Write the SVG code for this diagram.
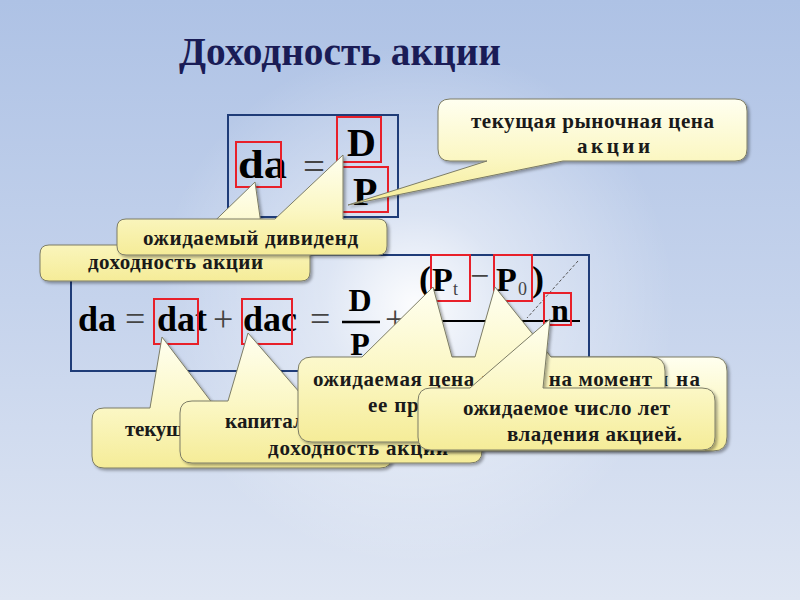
<svg xmlns="http://www.w3.org/2000/svg" width="800" height="600" viewBox="0 0 800 600">
<defs>
<linearGradient id="bg" x1="0" y1="0" x2="0" y2="1">
<stop offset="0" stop-color="#aec2e5"/>
<stop offset="0.5" stop-color="#c5d3ec"/>
<stop offset="1" stop-color="#dfe6f3"/>
</linearGradient>
<radialGradient id="glow" cx="415" cy="305" r="260" gradientUnits="userSpaceOnUse">
<stop offset="0" stop-color="#ffffff" stop-opacity="0.95"/>
<stop offset="0.35" stop-color="#ffffff" stop-opacity="0.45"/>
<stop offset="1" stop-color="#ffffff" stop-opacity="0"/>
</radialGradient>
<linearGradient id="cfill" x1="0" y1="0" x2="0" y2="1">
<stop offset="0" stop-color="#fffff0"/>
<stop offset="0.55" stop-color="#fbf7c4"/>
<stop offset="1" stop-color="#f5ec98"/>
</linearGradient>
<filter id="sh" x="-10%" y="-10%" width="120%" height="130%">
<feDropShadow dx="2" dy="2" stdDeviation="1.5" flood-color="#000" flood-opacity="0.35"/>
</filter>
<style>
.call{fill:url(#cfill);stroke:#7d7d66;stroke-width:1;filter:url(#sh)}
.ct{font-family:"Liberation Serif","Times New Roman",serif;font-weight:bold;font-size:21px;fill:#1a1a1a}
.box{fill:none;stroke:#1f3c78;stroke-width:2}
.red{fill:none;stroke:#e8202a;stroke-width:2}
.f{font-family:"Liberation Serif","Times New Roman",serif;font-weight:bold;fill:#000}
.op{font-family:"Liberation Serif","Times New Roman",serif;font-weight:normal;fill:#444}
</style>
</defs>
<rect x="0" y="0" width="800" height="600" fill="url(#bg)"/>
<rect x="0" y="0" width="800" height="600" fill="url(#glow)"/>

<g id="title">
<text x="179" y="65" font-family="Liberation Serif, Times New Roman, serif" font-weight="bold" font-size="40" fill="#1a1c56" textLength="322" lengthAdjust="spacingAndGlyphs">Доходность акции</text>
</g>

<g id="formula-top">
<rect class="box" x="228" y="115" width="170" height="102"/>
<text class="f" x="238" y="178" font-size="40" textLength="49" lengthAdjust="spacingAndGlyphs">da</text>
<text class="op" x="303" y="179" font-size="38" textLength="22" lengthAdjust="spacingAndGlyphs">=</text>
<text class="f" x="347" y="156" font-size="40">D</text>
<text class="f" x="353" y="205" font-size="40">P</text>
<rect class="red" x="236" y="142" width="45" height="45"/>
<rect class="red" x="337" y="117" width="44" height="45"/>
<rect class="red" x="342" y="167" width="46" height="45"/>
</g>

<g id="formula-bottom">
<rect class="box" x="71" y="255" width="518" height="116"/>
<text class="f" x="78" y="331" font-size="36">da</text>
<text class="op" x="125" y="331" font-size="36">=</text>
<text class="f" x="157" y="331" font-size="36">dat</text>
<text class="op" x="213" y="331" font-size="36">+</text>
<text class="f" x="243" y="331" font-size="36">dac</text>
<text class="op" x="310" y="331" font-size="36">=</text>
<text class="f" x="360" y="311" font-size="32" text-anchor="middle">D</text>
<line x1="342" y1="322" x2="380" y2="322" stroke="#000" stroke-width="2.5"/>
<text class="f" x="360" y="355" font-size="32" text-anchor="middle">P</text>
<text class="op" x="385" y="331" font-size="36">+</text>
<text class="f" x="419" y="291" font-size="36">(</text>
<text class="f" x="432" y="291" font-size="34">P</text>
<text class="op" x="453" y="295" font-size="18" fill="#000">t</text>
<text class="op" x="470" y="287" font-size="34">−</text>
<text class="f" x="496" y="291" font-size="34">P</text>
<text class="op" x="518" y="295" font-size="18" fill="#000">0</text>
<text class="f" x="532" y="291" font-size="36">)</text>
<line x1="440" y1="321" x2="580" y2="321" stroke="#000" stroke-width="2"/>
<text class="f" x="551" y="321" font-size="32">n</text>
<line x1="578" y1="261" x2="527" y2="318" stroke="#555" stroke-width="1" stroke-dasharray="3,2"/>
<rect class="red" x="154" y="299" width="44" height="45"/>
<rect class="red" x="242" y="299" width="50" height="45"/>
<rect class="red" x="431" y="255" width="39" height="46"/>
<rect class="red" x="494" y="255" width="38" height="46"/>
<rect class="red" x="544" y="293" width="27" height="32"/>
</g>

<g id="callout-market-price">
<path class="call" d="M450,99 L735,99 Q747,99 747,111 L747,149 Q747,161 735,161 L563,161 L348,205 L487,161 L450,161 Q438,161 438,149 L438,111 Q438,99 450,99 Z"/>
<text class="ct" x="471" y="128" textLength="243" lengthAdjust="spacing">текущая рыночная цена</text>
<text class="ct" x="577" y="153" textLength="73" lengthAdjust="spacing">акции</text>
</g>

<g id="callout-yield">
<path class="call" d="M49,245 L190,245 L255,182 L264,245 L301,245 Q310,245 310,254 L310,272 Q310,281 301,281 L49,281 Q40,281 40,272 L40,254 Q40,245 49,245 Z"/>
<text class="ct" x="88" y="269" textLength="175" lengthAdjust="spacing">доходность акции</text>
</g>

<g id="callout-dividend">
<path class="call" d="M126,219 L275,219 L343,155 L343,219 L378,219 Q387,219 387,228 L387,246 Q387,255 378,255 L126,255 Q117,255 117,246 L117,228 Q117,219 126,219 Z"/>
<text class="ct" x="143" y="245" textLength="215" lengthAdjust="spacing">ожидаемый дивиденд</text>
</g>

<g id="callout-current">
<path class="call" d="M104,408 L150,408 L162,337 L216,408 L380,408 Q392,408 392,420 L392,456 Q392,468 380,468 L104,468 Q92,468 92,456 L92,420 Q92,408 104,408 Z"/>
<text class="ct" x="125" y="436" textLength="80" lengthAdjust="spacing">текущая</text>
</g>

<g id="callout-capital">
<path class="call" d="M192,401 L228,401 L248,333 L307,401 L470,401 Q482,401 482,413 L482,451 Q482,463 470,463 L192,463 Q180,463 180,451 L180,413 Q180,401 192,401 Z"/>
<text class="ct" x="225" y="428" textLength="203" lengthAdjust="spacing">капитализированная</text>
<text class="ct" x="268" y="455" textLength="180" lengthAdjust="spacing">доходность акции</text>
</g>

<g id="callout-back">
<path class="call" d="M444,357 L713,357 Q727,357 727,371 L727,437 Q727,451 713,451 L444,451 Q430,451 430,437 L430,371 Q430,357 444,357 Z"/>
<text class="ct" x="656" y="386" textLength="44" lengthAdjust="spacing">и на</text>
</g>

<g id="callout-sale-price">
<path class="call" d="M312,357 L362,357 L433,287 L452,357 L475,357 L495,287 L551,357 L651,357 Q665,357 665,371 L665,428 Q665,442 651,442 L312,442 Q298,442 298,428 L298,371 Q298,357 312,357 Z"/>
<text class="ct" x="313" y="386" textLength="339" lengthAdjust="spacing">ожидаемая цена акции на момент</text>
<text class="ct" x="368" y="412" textLength="113" lengthAdjust="spacing">ее продажи</text>
</g>

<g id="callout-years">
<path class="call" d="M431,388 L470,388 L550,319 L543,388 L702,388 Q715,388 715,401 L715,437 Q715,450 702,450 L431,450 Q418,450 418,437 L418,401 Q418,388 431,388 Z"/>
<text class="ct" x="463" y="415" textLength="207" lengthAdjust="spacing">ожидаемое число лет</text>
<text class="ct" x="507" y="441" textLength="175" lengthAdjust="spacing">владения акцией.</text>
</g>
</svg>
